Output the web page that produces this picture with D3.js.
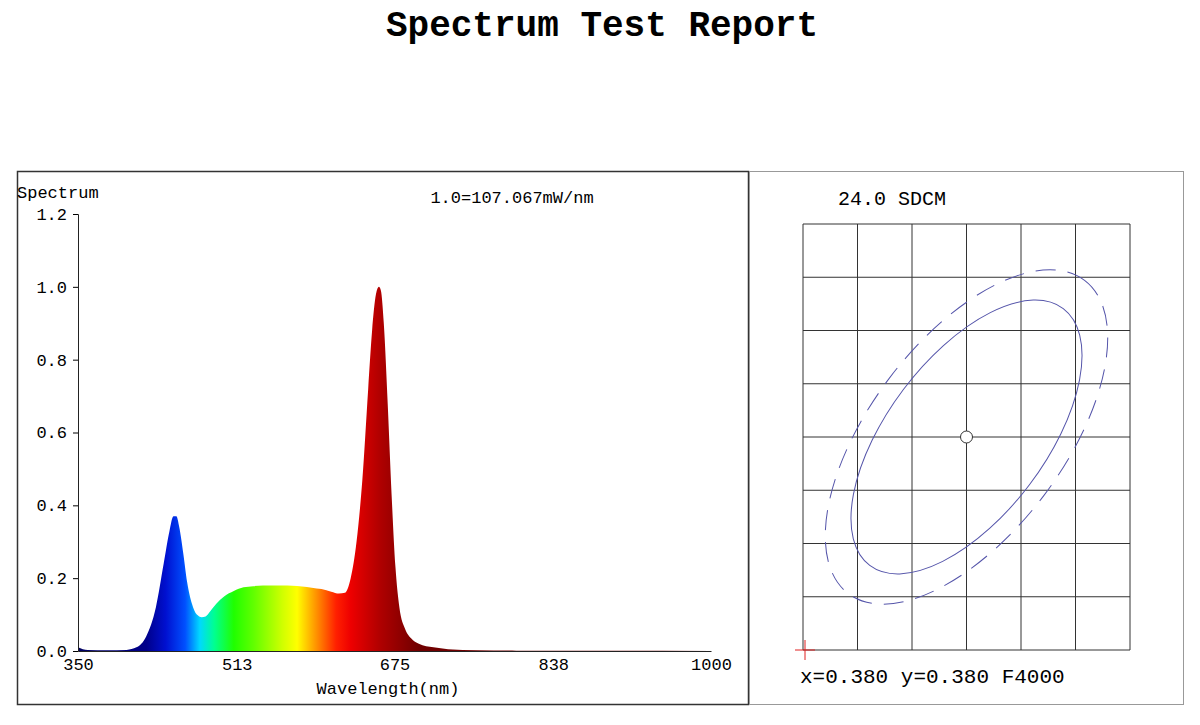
<!DOCTYPE html>
<html><head><meta charset="utf-8">
<script src="https://cdn.jsdelivr.net/npm/d3@7"></script>
<style>body{margin:0;background:#fff}text{font-family:"Liberation Mono","DejaVu Sans Mono",monospace;fill:#000}</style>
</head><body>
<svg id="c" width="1200" height="725"></svg>
<script>
// spectrum (relative, 1.0 = 107.067 mW/nm)
var wavelengths = [350,355,360,380,400,410,420,430,438,444,448,451,454,458,462,467,472,477,481,486,492,500,510,520,530,540,550,560,570,580,590,600,610,618,624,630,636,642,648,652,656,659,661,664,668,672,676,680,686,692,700,715,730,760,800,900,1000];
var intensity   = [0.01,0.005,0.003,0.002,0.003,0.01,0.04,0.12,0.24,0.33,0.37,0.37,0.34,0.27,0.19,0.13,0.10,0.093,0.095,0.11,0.13,0.15,0.165,0.175,0.178,0.18,0.18,0.18,0.179,0.177,0.174,0.17,0.163,0.158,0.16,0.2,0.3,0.47,0.72,0.88,0.98,1.0,0.99,0.9,0.68,0.43,0.23,0.12,0.06,0.035,0.02,0.01,0.005,0.002,0.001,0.0005,0];
var yTicks = [0,0.2,0.4,0.6,0.8,1.0,1.2];
var xTicks = [350,513,675,838,1000];
// colour stops across wavelength
var colorNm  = [350,420,440,460,475,490,510,530,560,575,595,615,630,660,700];
var colorHex = ["#000060","#00008a","#0010d0","#0050ff","#00d8ff","#00ff90","#20ff00","#60ff00","#d0ff00","#ffff00","#ff9000","#ff2000","#ee0000","#b00000","#700000"];
// SDCM ellipse (grid units: 6 x 8 cells)
var sdcmCols = 6, sdcmRows = 8;
var ellipseInner = {a: 2.95, b: 1.45, angle: -53};
var ellipseOuter = {a: 3.6, b: 1.78, angle: -53};

var svg = d3.select("#c");
svg.append("text").attr("x", 602).attr("y", 36).attr("text-anchor", "middle")
    .style("font-size", "36px").style("font-weight", "bold").text("Spectrum Test Report");

// panels
svg.append("rect").attr("x", 17.5).attr("y", 171.5).attr("width", 731).attr("height", 533)
    .attr("fill", "none").attr("stroke", "#333").attr("stroke-width", 1.5);
svg.append("rect").attr("x", 749.5).attr("y", 171.5).attr("width", 434).attr("height", 533)
    .attr("fill", "none").attr("stroke", "#999").attr("stroke-width", 1);

// left chart
var x = d3.scaleLinear().domain([350, 1000]).range([78, 711]);
var y = d3.scaleLinear().domain([0, 1.2]).range([651, 214]);

var grad = svg.append("defs").append("linearGradient").attr("id", "spec")
    .attr("gradientUnits", "userSpaceOnUse").attr("x1", x(350)).attr("x2", x(1000)).attr("y1", 0).attr("y2", 0);
colorNm.forEach(function(n, i) {
    grad.append("stop").attr("offset", (n - 350) / 650).attr("stop-color", colorHex[i]);
});

var pts = wavelengths.map(function(w, i) { return [w, intensity[i]]; });
svg.append("path").datum(pts)
    .attr("fill", "url(#spec)").attr("stroke", "none")
    .attr("d", d3.area().curve(d3.curveMonotoneX).x(function(d) { return x(d[0]); }).y0(y(0)).y1(function(d) { return y(d[1]); }));

var yAxis = svg.append("g").attr("transform", "translate(78,0)")
    .call(d3.axisLeft(y).tickValues(yTicks).tickFormat(d3.format(".1f")).tickSize(5).tickPadding(6));
var xAxis = svg.append("g").attr("transform", "translate(0,651)")
    .call(d3.axisBottom(x).tickValues(xTicks).tickFormat(d3.format("d")).tickSize(0).tickPadding(7));
[yAxis, xAxis].forEach(function(g) {
    g.select(".domain").attr("stroke", "#222");
    g.selectAll("text").style("font-size", "17px").attr("fill", "#000");
});

svg.append("text").attr("x", 17).attr("y", 198).style("font-size", "17px").text("Spectrum");
svg.append("text").attr("x", 512).attr("y", 203).attr("text-anchor", "middle").style("font-size", "17px").text("1.0=107.067mW/nm");
svg.append("text").attr("x", 388).attr("y", 694).attr("text-anchor", "middle").style("font-size", "17px").text("Wavelength(nm)");

// right chart: SDCM grid
var gx = d3.scaleLinear().domain([0, sdcmCols]).range([803, 1130]);
var gy = d3.scaleLinear().domain([0, sdcmRows]).range([650, 224]);
var grid = svg.append("g").attr("stroke", "#333").attr("stroke-width", 1);
d3.range(sdcmCols + 1).forEach(function(i) {
    grid.append("line").attr("x1", gx(i)).attr("x2", gx(i)).attr("y1", gy(0)).attr("y2", gy(sdcmRows));
});
d3.range(sdcmRows + 1).forEach(function(i) {
    grid.append("line").attr("y1", gy(i)).attr("y2", gy(i)).attr("x1", gx(0)).attr("x2", gx(sdcmCols));
});

var cx = gx(sdcmCols / 2), cy = gy(sdcmRows / 2), unit = gx(1) - gx(0);
function drawEllipse(e, dash) {
    svg.append("ellipse").attr("cx", 0).attr("cy", 0)
        .attr("rx", e.a * unit).attr("ry", e.b * unit)
        .attr("transform", "translate(" + cx + "," + cy + ") rotate(" + e.angle + ")")
        .attr("fill", "none").attr("stroke", "#5555aa").attr("stroke-width", 1)
        .attr("stroke-dasharray", dash);
}
drawEllipse(ellipseInner, null);
drawEllipse(ellipseOuter, "20,12");

svg.append("circle").attr("cx", cx).attr("cy", cy).attr("r", 6)
    .attr("fill", "#fff").attr("stroke", "#333");
svg.append("path").attr("d", "M795,650 h20 M805,640 v20").attr("stroke", "#e02020").attr("stroke-width", 1);

svg.append("text").attr("x", 838).attr("y", 205).style("font-size", "20px").text("24.0 SDCM");
svg.append("text").attr("x", 800).attr("y", 683).style("font-size", "21px").text("x=0.380 y=0.380 F4000");
</script>
</body></html>
